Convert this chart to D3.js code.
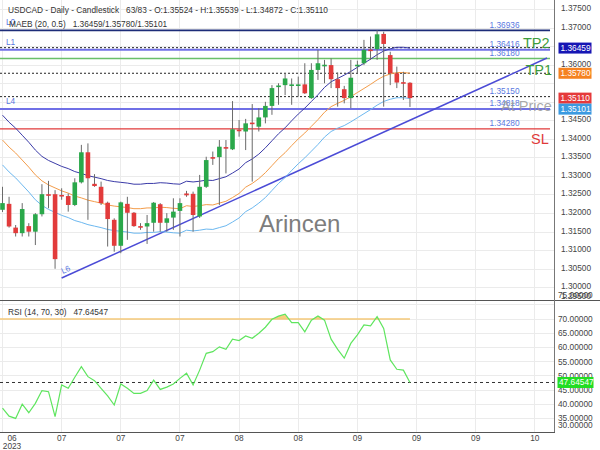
<!DOCTYPE html>
<html>
<head>
<meta charset="utf-8">
<script src="https://cdn.jsdelivr.net/npm/d3@7"></script>
<style>
  body { margin: 0; background: #fff; }
  svg { display: block; }
</style>
</head>
<body>
<script>
// USDCAD daily candles
var opens = [1.3210, 1.3226, 1.3162, 1.3147, 1.3166, 1.3151, 1.3198, 1.3252, 1.3252, 1.3250,
             1.3247, 1.3223, 1.3284, 1.3365, 1.3280, 1.3272, 1.3229, 1.3183, 1.3113, 1.3226,
             1.3202, 1.3166, 1.3165, 1.3175, 1.3225, 1.3175, 1.3189, 1.3207, 1.3254, 1.3253,
             1.3192, 1.3272, 1.3352, 1.3352, 1.3379, 1.3373, 1.3426, 1.3421, 1.3445, 1.3434,
             1.3459, 1.3490, 1.3542, 1.3546, 1.3545, 1.3545, 1.3548, 1.3511, 1.3587, 1.3599,
             1.3600, 1.3562, 1.3535, 1.3511, 1.3599, 1.3605, 1.3642, 1.3643, 1.3684, 1.3627,
             1.3578, 1.3554, 1.35524];
var highs = [1.3272, 1.3245, 1.3169, 1.3228, 1.3174, 1.3201, 1.3279, 1.3288, 1.3263, 1.3268,
             1.3254, 1.3295, 1.3385, 1.3389, 1.3306, 1.3286, 1.3232, 1.3187, 1.3232, 1.3245,
             1.3204, 1.3174, 1.3196, 1.3231, 1.3228, 1.3201, 1.3241, 1.3241, 1.3261, 1.3259,
             1.3304, 1.3353, 1.3367, 1.3398, 1.3398, 1.3503, 1.3452, 1.3455, 1.3495, 1.3484,
             1.3501, 1.3546, 1.3551, 1.3578, 1.3564, 1.3569, 1.3605, 1.3605, 1.3641, 1.3614,
             1.3618, 1.3580, 1.3544, 1.3614, 1.3612, 1.3668, 1.3677, 1.3694, 1.3690, 1.3636,
             1.3596, 1.3582, 1.35539];
var lows = [1.3204, 1.3162, 1.3138, 1.3138, 1.3138, 1.3115, 1.3192, 1.3214, 1.3051, 1.3237,
            1.3205, 1.3220, 1.3281, 1.3183, 1.3272, 1.3223, 1.3111, 1.3097, 1.3093, 1.3129,
            1.3164, 1.3156, 1.3118, 1.3151, 1.3151, 1.3151, 1.3156, 1.3138, 1.3245, 1.3151,
            1.3188, 1.3269, 1.3331, 1.3223, 1.3308, 1.3371, 1.3407, 1.3371, 1.3286, 1.3421,
            1.3443, 1.3466, 1.3493, 1.3519, 1.3493, 1.3515, 1.3522, 1.3509, 1.3560, 1.3551,
            1.3538, 1.3488, 1.3497, 1.3484, 1.3578, 1.3600, 1.3614, 1.3614, 1.3488, 1.3546,
            1.3538, 1.3506, 1.34872];
var closes = [1.3228, 1.3165, 1.3147, 1.3212, 1.3151, 1.3198, 1.3252, 1.3249, 1.3077, 1.3247,
              1.3223, 1.3284, 1.3365, 1.3295, 1.3274, 1.3228, 1.3185, 1.3113, 1.3230, 1.3202,
              1.3166, 1.3164, 1.3174, 1.3229, 1.3175, 1.3187, 1.3205, 1.3228, 1.3249, 1.3196,
              1.3272, 1.3344, 1.3348, 1.3380, 1.3375, 1.3427, 1.3422, 1.3443, 1.3441, 1.3459,
              1.3490, 1.3538, 1.3545, 1.3564, 1.3548, 1.3548, 1.3524, 1.3587, 1.3605, 1.3601,
              1.3562, 1.3538, 1.3511, 1.3566, 1.3601, 1.3641, 1.3639, 1.3683, 1.3657, 1.3578,
              1.3553, 1.3553, 1.35110];

// MAEB (20, 0.5) envelope
var maebUpper = [1.3465, 1.3446, 1.3430, 1.3411, 1.3392, 1.3371, 1.3354, 1.3343, 1.3335, 1.3327,
                 1.3321, 1.3313, 1.3308, 1.3302, 1.3298, 1.3294, 1.3289, 1.3286, 1.3284, 1.3282,
                 1.3279, 1.3279, 1.3281, 1.3281, 1.3283, 1.3282, 1.3280, 1.3279, 1.3287, 1.3285,
                 1.3287, 1.3290, 1.3289, 1.3294, 1.3299, 1.3309, 1.3320, 1.3337, 1.3347, 1.3360,
                 1.3377, 1.3396, 1.3415, 1.3431, 1.3450, 1.3468, 1.3484, 1.3502, 1.3520, 1.3540,
                 1.3555, 1.3564, 1.3573, 1.3583, 1.3594, 1.3605, 1.3616, 1.3628, 1.3638, 1.3644,
                 1.3648, 1.3648, 1.36459];
var maebMid = [1.3398, 1.3379, 1.3363, 1.3344, 1.3325, 1.3304, 1.3288, 1.3277, 1.3269, 1.3261,
               1.3255, 1.3247, 1.3242, 1.3236, 1.3232, 1.3228, 1.3223, 1.3220, 1.3218, 1.3216,
               1.3213, 1.3213, 1.3215, 1.3215, 1.3217, 1.3216, 1.3214, 1.3213, 1.3221, 1.3219,
               1.3221, 1.3224, 1.3223, 1.3228, 1.3233, 1.3243, 1.3254, 1.3271, 1.3281, 1.3294,
               1.3310, 1.3329, 1.3348, 1.3364, 1.3383, 1.3401, 1.3417, 1.3435, 1.3453, 1.3473,
               1.3488, 1.3497, 1.3505, 1.3515, 1.3526, 1.3537, 1.3548, 1.3560, 1.3570, 1.3576,
               1.3580, 1.3580, 1.35780];
var maebLower = [1.3331, 1.3312, 1.3296, 1.3277, 1.3258, 1.3237, 1.3222, 1.3211, 1.3203, 1.3195,
                 1.3189, 1.3181, 1.3176, 1.3170, 1.3166, 1.3162, 1.3157, 1.3154, 1.3152, 1.3150,
                 1.3147, 1.3147, 1.3149, 1.3149, 1.3151, 1.3150, 1.3148, 1.3147, 1.3155, 1.3153,
                 1.3155, 1.3158, 1.3157, 1.3162, 1.3167, 1.3177, 1.3188, 1.3205, 1.3215, 1.3228,
                 1.3243, 1.3262, 1.3281, 1.3297, 1.3316, 1.3334, 1.3350, 1.3368, 1.3386, 1.3406,
                 1.3421, 1.3430, 1.3437, 1.3447, 1.3458, 1.3469, 1.3480, 1.3492, 1.3502, 1.3508,
                 1.3512, 1.3512, 1.35101];

// RSI (14, 70, 30)
var rsiValues = [38.6, 35.8, 35.0, 40.0, 37.0, 40.3, 44.8, 44.4, 35.6, 46.8,
                 45.6, 49.5, 53.2, 49.7, 48.3, 45.6, 42.9, 39.7, 47.1, 45.6,
                 43.8, 43.8, 44.8, 48.5, 45.2, 46.0, 47.1, 49.1, 50.9, 46.8,
                 52.0, 57.9, 58.5, 60.2, 59.3, 62.9, 62.4, 64.0, 63.2, 65.0,
                 67.1, 69.9, 71.0, 71.7, 68.7, 68.7, 65.5, 69.6, 71.1, 69.6,
                 62.9, 59.3, 56.2, 61.4, 64.4, 67.9, 67.6, 70.8, 66.7, 55.6,
                 52.3, 52.0, 47.64547];

// horizontal levels
var navyLevels = [1.36936];
var blueLevels = [1.36416, 1.34818];
var greenLevels = [1.36180];
var redLevels = [1.34280];
var dottedLevels = [1.3647, 1.3578, 1.35150];
var valueLabels = [1.36936, 1.36416, 1.36180, 1.35150, 1.34818, 1.34280];
var lineNames = ["L0", "L1", "L4"];
var lineNameLevels = [1.36936, 1.36416, 1.34818];

// trend line L6 (bar index, price)
var trendIdx = [9, 82.85];
var trendPrice = [1.3026, 1.3619];

// axes
var monthLabels = ["06", "07", "07", "07", "08", "08", "09", "09", "09", "10"];
var tickStep = 9;
var totalSlots = 83;
var priceTicks = [1.295, 1.300, 1.305, 1.310, 1.315, 1.320, 1.325, 1.330, 1.335, 1.340,
                  1.345, 1.350, 1.355, 1.360, 1.365, 1.370, 1.375];
var rsiTicks = [30, 35, 40, 45, 50, 55, 60, 65, 70, 75];

var fmt5 = d3.format(".5f");
var gap = "\u00a0\u00a0\u00a0";
var plotRight = 554, mainBottom = 299, rsiTop = 300, rsiBottom = 432;
var last = closes.length - 1;

var svg = d3.select("body").append("svg")
  .attr("width", 600).attr("height", 450)
  .style("font-family", "'Liberation Sans', Arial, sans-serif");

var x = d3.scaleLinear().domain([0, 82]).range([2.5, 541.4]);
var y = d3.scaleLinear().domain([1.30, 1.375]).range([287.7, 9.45]);
var yR = d3.scaleLinear().domain([30, 75]).range([432.6, 304.8]);

var defs = svg.append("defs");
defs.append("clipPath").attr("id", "clipMain").append("rect")
  .attr("x", 0).attr("y", 0).attr("width", plotRight).attr("height", mainBottom);
defs.append("clipPath").attr("id", "clipRsi").append("rect")
  .attr("x", 0).attr("y", rsiTop).attr("width", plotRight).attr("height", rsiBottom - rsiTop);
defs.append("clipPath").attr("id", "clipOB").append("rect")
  .attr("x", 0).attr("y", rsiTop).attr("width", plotRight).attr("height", yR(70) - rsiTop);

// grid
var grid = svg.append("g").attr("stroke", "#ebebeb").attr("shape-rendering", "crispEdges");
monthLabels.forEach(function(t, k) {
  grid.append("line").attr("x1", x(k * tickStep)).attr("x2", x(k * tickStep))
    .attr("y1", 0).attr("y2", rsiBottom);
});
priceTicks.forEach(function(p) {
  if (y(p) > mainBottom) return;
  grid.append("line").attr("x1", 0).attr("x2", plotRight).attr("y1", y(p)).attr("y2", y(p));
});
rsiTicks.forEach(function(v) {
  if (yR(v) > rsiBottom) return;
  grid.append("line").attr("x1", 0).attr("x2", plotRight).attr("y1", yR(v)).attr("y2", yR(v));
});

// main panel
var main = svg.append("g").attr("clip-path", "url(#clipMain)");

function hline(g, p, color, w, dash) {
  g.append("line").attr("x1", 0).attr("x2", plotRight - 4)
    .attr("y1", y(p)).attr("y2", y(p))
    .attr("stroke", color).attr("stroke-width", w)
    .attr("stroke-dasharray", dash || null);
}
redLevels.forEach(function(p) { hline(main, p, "#e03a3a", 1.2); });
greenLevels.forEach(function(p) { hline(main, p, "#6abf69", 1.5); });
blueLevels.forEach(function(p) { hline(main, p, "#7070e6", 2); });
navyLevels.forEach(function(p) { hline(main, p, "#1c2c78", 1.6); });
dottedLevels.forEach(function(p) { hline(main, p, "#222", 1, "2,2"); });

// trend line
var trend = trendIdx.map(function(d, k) { return [d, trendPrice[k]]; });
main.append("path").datum(trend)
  .attr("fill", "none").attr("stroke", "#4b4bd6").attr("stroke-width", 1.5)
  .attr("d", d3.line().x(function(d) { return x(d[0]); }).y(function(d) { return y(d[1]); }));

// MAEB bands
var bandLine = d3.line().x(function(d, i) { return x(i); }).y(function(d) { return y(d); });
main.append("path").datum(maebUpper).attr("fill", "none").attr("stroke", "#3b3ba8").attr("stroke-width", 1).attr("d", bandLine);
main.append("path").datum(maebMid).attr("fill", "none").attr("stroke", "#f39c4a").attr("stroke-width", 1).attr("d", bandLine);
main.append("path").datum(maebLower).attr("fill", "none").attr("stroke", "#6cb8f0").attr("stroke-width", 1).attr("d", bandLine);

// candles
var bars = closes.map(function(c, i) { return {i: i, o: opens[i], h: highs[i], l: lows[i], c: c}; });
var candle = main.selectAll(".candle").data(bars).enter().append("g").attr("class", "candle");
candle.append("line")
  .attr("x1", function(d) { return x(d.i); }).attr("x2", function(d) { return x(d.i); })
  .attr("y1", function(d) { return y(d.h); }).attr("y2", function(d) { return y(d.l); })
  .attr("stroke", "#6a6a6a").attr("stroke-width", 1);
candle.append("rect")
  .attr("x", function(d) { return x(d.i) - 2.3; })
  .attr("width", 4.6)
  .attr("y", function(d) { return Math.min(y(d.o), y(d.c)); })
  .attr("height", function(d) { return Math.max(1.6, Math.abs(y(d.o) - y(d.c))); })
  .attr("fill", function(d) { return d.c >= d.o ? "#2aa84a" : "#e23b3b"; });

// level texts
var txt = svg.append("g").attr("font-size", "8.3px");
valueLabels.forEach(function(p) {
  txt.append("text").attr("x", 489.5).attr("y", y(p) - 2.5)
    .attr("fill", "#5a78e0").text(fmt5(p));
});
lineNames.forEach(function(n, k) {
  txt.append("text").attr("x", 6).attr("y", y(lineNameLevels[k]) - 5)
    .attr("fill", "#5a78e0").text(n);
});
var angle = Math.atan2(y(trendPrice[1]) - y(trendPrice[0]), x(trendIdx[1]) - x(trendIdx[0])) * 180 / Math.PI;
txt.append("text")
  .attr("transform", "translate(" + (x(trendIdx[0]) + 1) + "," + (y(trendPrice[0]) - 4) + ") rotate(" + angle + ")")
  .attr("fill", "#5a78e0").text("L6");

var big = svg.append("g").attr("font-size", "14.5px");
big.append("text").attr("x", 523).attr("y", y(dottedLevels[0]) + 0.5).attr("fill", "#3d9c3d").text("TP2");
big.append("text").attr("x", 525.5).attr("y", y(dottedLevels[1]) + 1.8).attr("fill", "#3d9c3d").text("TP1");
big.append("text").attr("x", 501).attr("y", y(blueLevels[1]) + 2.5).attr("fill", "#9a9a9a").attr("fill-opacity", 0.85).text("At Price");
big.append("text").attr("x", 531).attr("y", y(redLevels[0]) + 15.5).attr("fill", "#e03a3a").text("SL");

// watermark
svg.append("text").attr("x", 259).attr("y", 232).attr("font-size", "24px")
  .attr("fill", "#7d7d7d").text("Arincen");

// header
var head = svg.append("g").attr("font-size", "8.3px").attr("fill", "#333");
head.append("text").attr("x", 8).attr("y", 13.3)
  .text("USDCAD - Daily - Candlestick" + gap + closes.length + "/" + totalSlots +
        " - O:" + fmt5(opens[last]) + " - H:" + fmt5(highs[last]) +
        " - L:" + fmt5(lows[last]) + " - C:" + fmt5(closes[last]));
head.append("text").attr("x", 9).attr("y", 27)
  .text("MAEB (20, 0.5)" + gap + fmt5(maebUpper[last]) + "/" + fmt5(maebMid[last]) + "/" + fmt5(maebLower[last]));

// RSI panel
var rsiG = svg.append("g").attr("clip-path", "url(#clipRsi)");
rsiG.append("path").datum(rsiValues)
  .attr("clip-path", "url(#clipOB)")
  .attr("fill", "#f7cf7e")
  .attr("d", d3.area().x(function(d, i) { return x(i); }).y0(yR(70)).y1(function(d) { return yR(d); }));
rsiG.append("line").attr("x1", 0).attr("x2", x(last))
  .attr("y1", yR(70)).attr("y2", yR(70))
  .attr("stroke", "#f5c878").attr("stroke-width", 1.5);
rsiG.append("line").attr("x1", 0).attr("x2", plotRight)
  .attr("y1", yR(rsiValues[last])).attr("y2", yR(rsiValues[last]))
  .attr("stroke", "#333").attr("stroke-width", 1).attr("stroke-dasharray", "3,3");
rsiG.append("path").datum(rsiValues)
  .attr("fill", "none").attr("stroke", "#5fe55f").attr("stroke-width", 1.2)
  .attr("d", d3.line().x(function(d, i) { return x(i); }).y(function(d) { return yR(d); }));
svg.append("text").attr("x", 8).attr("y", 314.5).attr("font-size", "8.3px").attr("fill", "#333")
  .text("RSI (14, 70, 30)" + gap + fmt5(rsiValues[last]));

// frame lines
svg.append("line").attr("x1", 0).attr("x2", 600).attr("y1", rsiTop + 0.5).attr("y2", rsiTop + 0.5)
  .attr("stroke", "#555").attr("stroke-width", 1);
svg.append("line").attr("x1", plotRight + 0.5).attr("x2", plotRight + 0.5).attr("y1", 0).attr("y2", rsiBottom)
  .attr("stroke", "#777").attr("stroke-width", 1);
svg.append("line").attr("x1", 0).attr("x2", plotRight + 1).attr("y1", rsiBottom + 0.5).attr("y2", rsiBottom + 0.5)
  .attr("stroke", "#555").attr("stroke-width", 1);

// current value boxes on the axis
var boxes = [
  {v: maebUpper[last], fill: "#1616b4"},
  {v: maebMid[last], fill: "#f58220"},
  {v: closes[last], fill: "#e5393b"},
  {v: maebLower[last], fill: "#3b9ae1"}
].map(function(b) { b.cy = y(b.v); return b; });
boxes.sort(function(a, b) { return a.cy - b.cy; });
for (var k = 1; k < boxes.length; k++) {
  if (boxes[k].cy < boxes[k - 1].cy + 11) boxes[k].cy = boxes[k - 1].cy + 11;
}
function hiddenByBox(cy) {
  return boxes.some(function(b) { return Math.abs(b.cy - cy) < 9; });
}

// right axis labels
var ax = svg.append("g").attr("font-size", "8.3px").attr("fill", "#444");
priceTicks.forEach(function(p) {
  var ly = Math.min(y(p) - 1.5, 296);
  if (hiddenByBox(ly)) return;
  ax.append("text").attr("x", 561).attr("y", ly + 3).text(fmt5(p));
});
var rsiNow = yR(rsiValues[last]);
rsiTicks.forEach(function(v) {
  var ly = yR(v);
  if (ly > 425) ly = 425;
  if (ly < 308) ly = 295;
  ax.append("text").attr("x", 558).attr("y", ly + 3).text(fmt5(v));
});

boxes.push({v: rsiValues[last], fill: "#22dd22", cy: rsiNow, rsi: true});
var bx = svg.append("g").attr("font-size", "8.3px");
boxes.forEach(function(b) {
  bx.append("rect").attr("x", b.rsi ? 557.5 : 558.5).attr("y", b.cy - 5.5)
    .attr("width", b.rsi ? 36 : 33).attr("height", 11).attr("fill", b.fill);
  bx.append("text").attr("x", b.rsi ? 559 : 560.5).attr("y", b.cy + 3)
    .attr("fill", "#fff").text(fmt5(b.v));
});

// bottom axis labels
var xa = svg.append("g").attr("font-size", "8.3px").attr("fill", "#444").attr("text-anchor", "middle");
monthLabels.forEach(function(t, k) {
  xa.append("text").attr("x", Math.max(x(k * tickStep), 12)).attr("y", 440.5).text(t);
});
xa.append("text").attr("x", 12).attr("y", 448.5).text("2023");
</script>
</body>
</html>
